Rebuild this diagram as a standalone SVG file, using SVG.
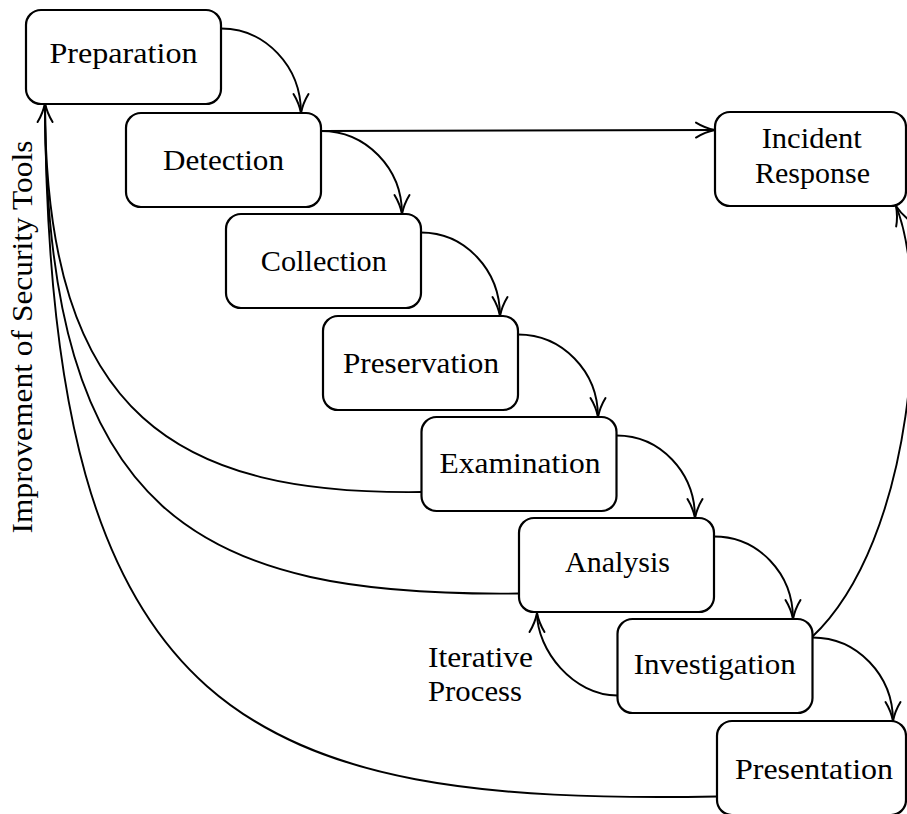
<svg xmlns="http://www.w3.org/2000/svg" width="907" height="814" viewBox="0 0 907 814">
<style>
.box{fill:#fff;stroke:#000;stroke-width:2.2}
.lbl{font-family:'Liberation Serif','DejaVu Serif',serif;font-size:29px;fill:#000;text-anchor:middle}
.edge{fill:none;stroke:#000;stroke-width:1.9}
.free{font-family:'Liberation Serif','DejaVu Serif',serif;font-size:29px;fill:#000}
</style>
<defs>
<marker id="arr" markerUnits="userSpaceOnUse" orient="auto" viewBox="-25 -12 30 24" markerWidth="30" markerHeight="24" refX="0" refY="0" overflow="visible">
<path d="M-19,-7.5 C-12,-3.2 -4,-0.8 0,0 C-4,0.8 -12,3.2 -19,7.5" fill="none" stroke="#000" stroke-width="2" stroke-linecap="round"/>
</marker>
</defs>
<rect width="907" height="814" fill="#fff"/>
<g id="connectors">
<path class="edge" marker-end="url(#arr)" d="M221,28.5 C265,28.5 301,66 301,113"/>
<path class="edge" marker-end="url(#arr)" d="M321,131 C366,131 402,168 402,214"/>
<path class="edge" marker-end="url(#arr)" d="M421,232.5 C465,232.5 500,270 500,316"/>
<path class="edge" marker-end="url(#arr)" d="M518,334.5 C562,334.5 598,371 598,417"/>
<path class="edge" marker-end="url(#arr)" d="M616.5,435.5 C660,435.5 695,472 695,518"/>
<path class="edge" marker-end="url(#arr)" d="M714,536.5 C758,536.5 793,573 793,619"/>
<path class="edge" marker-end="url(#arr)" d="M812.5,637.5 C857,637.5 893,675 893,721"/>
<path class="edge" marker-end="url(#arr)" d="M321,131 L715,130"/>
<path class="edge" marker-end="url(#arr)" d="M812,637 C915,540 930,290 896,206"/>
<path class="edge" marker-end="url(#arr)" d="M617.5,695.5 C573,695.5 537,650 537,613"/>
<path class="edge" d="M421.5,492 C180,495 45,420 45,103"/>
<path class="edge" d="M519,593.5 C200,597 45,520 45,103"/>
<path class="edge" marker-end="url(#arr)" d="M717,796.5 C250,805 48,725 45,103"/>
</g>
<g id="preparation"><rect class="box" x="26" y="10" width="195" height="94" rx="15"/><text class="lbl" x="123.5" y="63.3" textLength="148" lengthAdjust="spacingAndGlyphs" font-family="Liberation Serif">Preparation</text></g>
<g id="detection"><rect class="box" x="126" y="113" width="195" height="94" rx="15"/><text class="lbl" x="223.5" y="170" textLength="121" lengthAdjust="spacingAndGlyphs">Detection</text></g>
<g id="collection"><rect class="box" x="226" y="214" width="195" height="94" rx="15"/><text class="lbl" x="323.8" y="270.7" textLength="126" lengthAdjust="spacingAndGlyphs">Collection</text></g>
<g id="preservation"><rect class="box" x="323" y="316" width="195" height="94" rx="15"/><text class="lbl" x="421" y="372.7" textLength="156" lengthAdjust="spacingAndGlyphs">Preservation</text></g>
<g id="examination"><rect class="box" x="421.5" y="417" width="195" height="94" rx="15"/><text class="lbl" x="520" y="472.5" textLength="161" lengthAdjust="spacingAndGlyphs">Examination</text></g>
<g id="analysis"><rect class="box" x="519" y="518" width="195" height="94" rx="15"/><text class="lbl" x="617.5" y="571.8" textLength="105" lengthAdjust="spacingAndGlyphs">Analysis</text></g>
<g id="investigation"><rect class="box" x="617.5" y="619" width="195" height="94" rx="15"/><text class="lbl" x="714.7" y="673.8" textLength="162" lengthAdjust="spacingAndGlyphs">Investigation</text></g>
<g id="presentation"><rect class="box" x="717" y="721" width="189" height="94" rx="15"/><text class="lbl" x="814" y="779" textLength="158" lengthAdjust="spacingAndGlyphs">Presentation</text></g>
<g id="incident-response"><rect class="box" x="715" y="112" width="191" height="94" rx="15"/><text class="lbl" x="811.7" y="148.3" textLength="100" lengthAdjust="spacingAndGlyphs">Incident</text><text class="lbl" x="812.5" y="183.3" textLength="115" lengthAdjust="spacingAndGlyphs">Response</text></g>
<g id="labels">
<text class="lbl" transform="translate(31.5,337) rotate(-90)" x="0" y="0" textLength="393" lengthAdjust="spacingAndGlyphs">Improvement of Security Tools</text>
<text class="free" x="428" y="667" textLength="105" lengthAdjust="spacingAndGlyphs">Iterative</text>
<text class="free" x="428" y="700.7" textLength="94" lengthAdjust="spacingAndGlyphs">Process</text>
</g>
</svg>
